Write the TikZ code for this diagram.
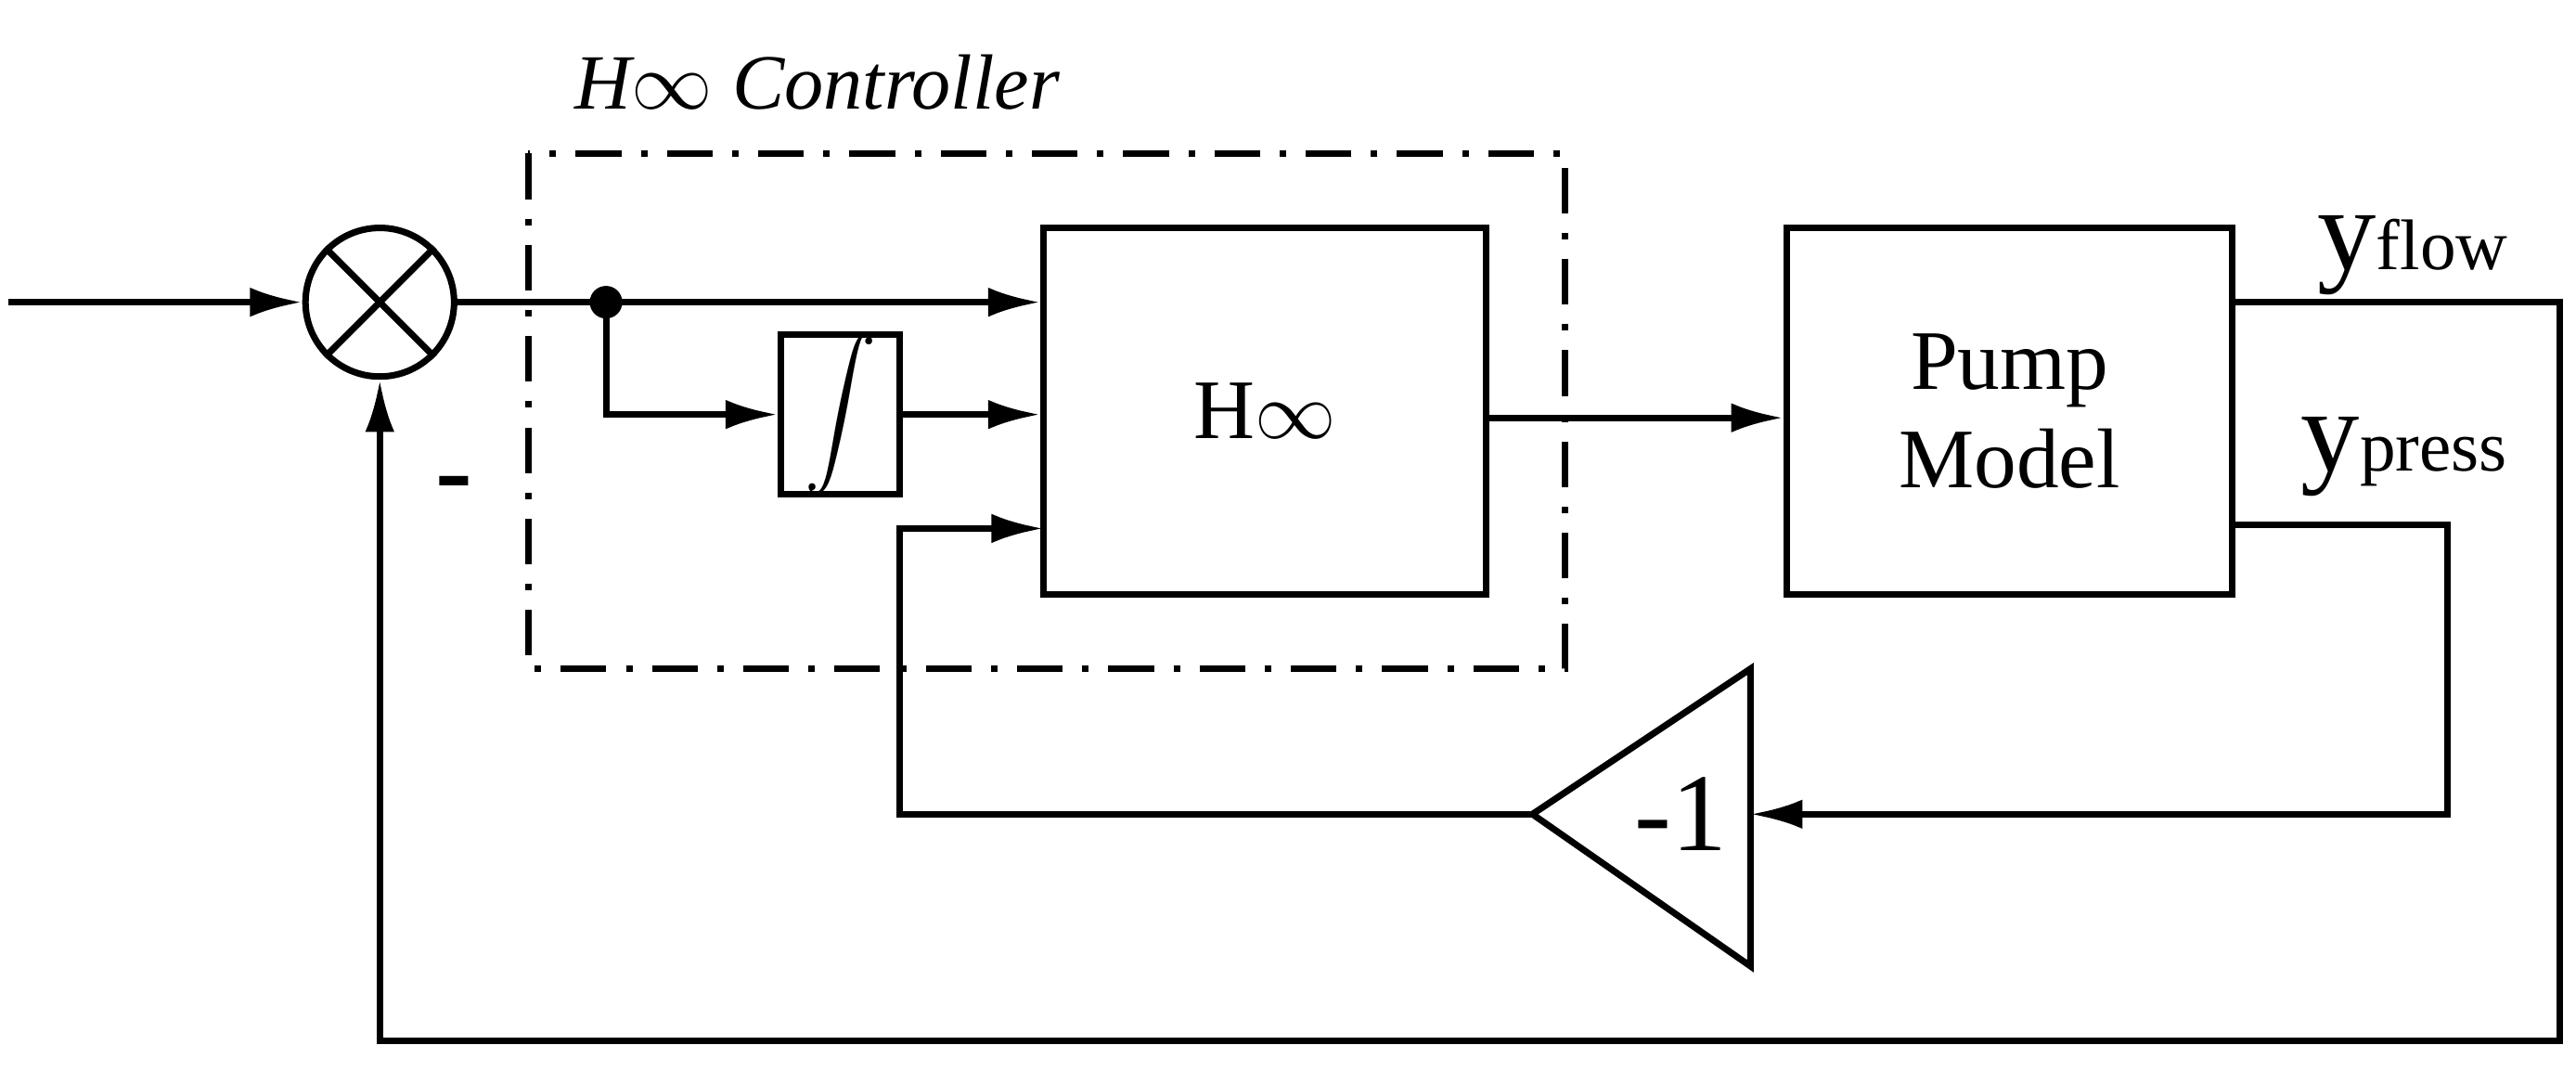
\documentclass[tikz,border=0pt]{standalone}
\usepackage{fontspec}
\setmainfont{Liberation Serif}
\usetikzlibrary{arrows.meta}
\begin{document}
\begin{tikzpicture}[x=0.0178cm,y=-0.0178cm,line width=2pt,
  arr/.style={-{Latex[length=16pt,width=9pt]}},
  blk/.style={draw,inner sep=0pt},
  txt/.style={font=\fontsize{26}{30}\selectfont}]
\useasboundingbox (0,0) rectangle (1560,648);
% sum junction
\node[draw,circle,minimum size=90*0.0178cm,inner sep=0pt] (sum) at (230,183) {};
\draw (sum.45) -- (sum.225) (sum.135) -- (sum.315);
\coordinate (in) at (5,183);
\draw[arr] (in) -- (sum.west);
% dash-dot box
\draw[dash pattern=on 14pt off 6pt on 2pt off 6pt] (320,93) rectangle (948,405);
\node[font=\fontsize{24}{28}\selectfont\itshape] (ctl) at (495,50) {H$\infty$ Controller};
% blocks
\node[blk,minimum width=268*0.0178cm,minimum height=222*0.0178cm] (H) at (766,249) {};
\node[txt] at (H) {H$\infty$};
\node[blk,minimum width=270*0.0178cm,minimum height=222*0.0178cm,txt,align=center] (P) at (1217,249) {Pump\\Model};
\node[blk,minimum width=72*0.0178cm,minimum height=92*0.0178cm] (I) at (509,251) {\scalebox{2.2}{$\displaystyle\int$}};
% gain triangle
\coordinate (tA) at (1060,405); \coordinate (tB) at (1060,585); \coordinate (tip) at (928,493);
\draw (tA) -- (tB) -- (tip) -- cycle;
\node[font=\fontsize{34}{34}\selectfont] (g) at (1018,493) {-1};
\coordinate (gin) at (1060,493);
% connections
\coordinate (dot) at (367,183);
\fill (dot) circle (5pt);
\draw (sum.east) -- (dot);
\draw[arr] (dot) -- (H.west |- dot);
\draw[arr] (dot) |- (I.west);
\draw[arr] (I.east) -- (H.west |- I.east);
\coordinate (fb1) at (545,493);
\draw[arr] (tip) -- (fb1) |- (632,320);
\draw[arr] (H.east |- 0,253) -- (P.west |- 0,253);
\coordinate (yf) at (1550,183);
\coordinate (bot) at (1550,630);
\draw[arr] (P.east |- yf) -- (yf) -- (bot) -| (sum.south);
\coordinate (yp) at (1482,318);
\draw[arr] (P.east |- yp) -- (yp) |- (gin);
% labels
\node[font=\fontsize{34}{34}\selectfont\bfseries] (minus) at (275,298) {-};
\node[anchor=base west] (lf) at (1395,163) {\fontsize{36}{36}\selectfont y\fontsize{22}{22}\selectfont flow};
\node[anchor=base west] (lp) at (1385,285) {\fontsize{36}{36}\selectfont y\fontsize{22}{22}\selectfont press};
\end{tikzpicture}
\end{document}
